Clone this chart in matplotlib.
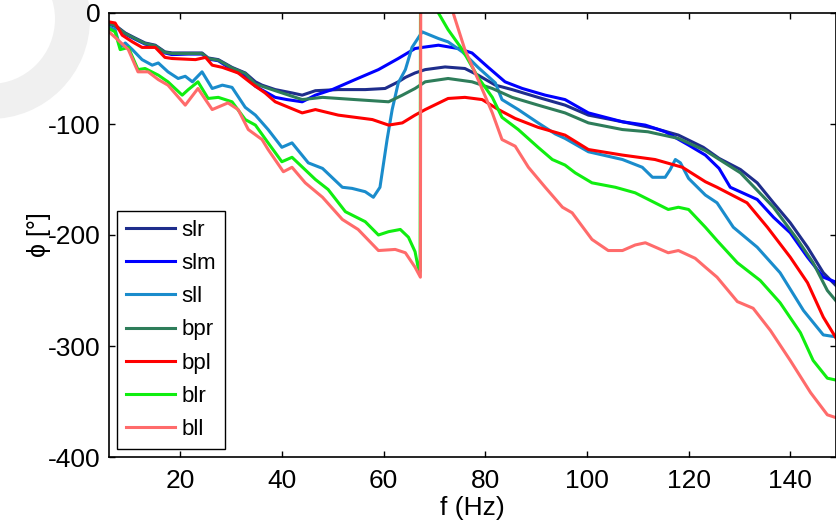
import matplotlib
matplotlib.use("Agg")
import matplotlib.pyplot as plt
from matplotlib.patches import Wedge
import numpy as np

plt.rcParams["font.family"] = ["Liberation Sans", "DejaVu Sans"]
plt.rcParams["axes.unicode_minus"] = False

# phase curves, frequency in Hz, phase in degrees
slr_f = [6, 7.2, 9.2, 11.1, 13.1, 15.1, 17, 18.4, 21.6, 24.3, 25.5, 27.5, 30.2, 32.8, 34.8, 36.1, 38.7, 42, 44,
         46.6, 51.1, 56.4, 60.3, 62.9, 64.3, 66.2, 68.2, 72.1, 76, 78.6, 82, 85.3, 90.4, 95.7, 100.3, 107, 113.4,
         118, 122.9, 126, 130.2, 133.5, 136.7, 140, 143.4, 146.5, 149.3]
slr_p = [-9, -11, -18, -22.5, -27, -29, -35, -36, -36, -36, -40.5, -42, -49, -54, -62, -65, -69, -72, -74,
         -70, -69, -69, -68, -62, -58, -54, -51, -48.6, -50, -56, -65, -69, -76, -83, -92, -98, -104,
         -110, -121, -131, -141, -153, -171, -189, -211, -234, -247]

slm_f = [6, 7.2, 9.2, 11.1, 13.1, 15.1, 17, 18.4, 21.6, 24.3, 25.5, 27.5, 30.2, 32.8, 34.8, 38.7, 41, 44, 46.6,
         49.9, 54.4, 59, 62.9, 66.2, 67.6, 70.8, 74.7, 77.4, 80.6, 83.9, 87.3, 91.8, 95.7, 100.3, 107, 111.5,
         115.4, 120, 123.3, 126, 128.2, 133.5, 136.7, 140, 143.4, 146.5, 149.3]
slm_p = [-10, -12, -19, -23.5, -28, -30, -36, -37.5, -37, -37, -41.5, -43, -51, -57, -66, -76, -78, -80, -74,
         -69, -60, -51, -41, -32, -31, -29, -32, -36, -49, -62, -68, -74, -78, -90, -98, -101,
         -107, -119, -128, -140, -157, -168, -184, -198, -220, -238, -243]

sll_f = [6, 7.2, 8.2, 9.2, 10.6, 12.5, 14.5, 15.7, 17.6, 19.6, 21, 22.4, 24.3, 26.3, 28.3, 30.2, 32.8, 34.8,
         37.3, 40, 42, 45.2, 48, 51.9, 53.8, 56.4, 58, 59.3, 60.7, 61.7, 62.9, 64.3, 65.6, 67.6, 70.8, 72.7,
         75.5, 78.6, 82, 83.3, 86.5, 90.4, 93.8, 95.7, 100.3, 107, 110.9, 112.9, 115.4, 116.4, 117.4, 118.4,
         120, 123.3, 125.6, 128.8, 133.5, 138, 142.6, 146.5, 149.3]
sll_p = [-12.6, -15, -31, -27, -33, -42, -47, -45, -53, -59, -57, -62, -53, -68, -65, -67, -85, -92,
         -105, -121, -117, -135, -140, -157, -158, -161, -166, -157, -114, -87, -63, -51, -31, -17, -23, -26,
         -35, -49, -63, -78, -87, -99, -109, -113, -125, -132, -139, -148, -148, -141, -132, -135,
         -149, -164, -171, -193, -211, -234, -268, -290, -292]

bpr_f = [6, 7.2, 9.2, 11.1, 13.1, 15.1, 17, 18.4, 21.6, 24.3, 25.5, 27.5, 30.2, 32.8, 34.8, 38.7, 44, 48, 54.4,
         61, 63.7, 66.2, 68.2, 72.7, 77.4, 81.4, 85.3, 90.4, 95.7, 100.3, 107, 112, 118, 123.3, 130.2, 136.7,
         141.4, 144.5, 147.3, 149.3]
bpr_p = [-9.5, -11.5, -18.5, -23, -27.5, -29.5, -35.5, -36.5, -36.5, -36.5, -41, -42.5, -49.5, -54.5, -64, -70,
         -78, -76, -78, -80, -74, -68, -62, -59, -62, -68, -76, -83, -90, -99, -105, -107, -113, -124, -144,
         -175, -204, -225, -250, -261]

bpl_f = [6, 7.2, 8.6, 10.6, 12.5, 15.1, 17, 18.4, 23, 25, 26.3, 28.3, 31.4, 34.2, 36.7, 38.7, 44, 46.6, 51.1,
         57.8, 61, 63.7, 66.2, 68.2, 72.7, 76, 79.4, 82.6, 85.9, 90.4, 95.7, 100.3, 107, 113.4, 118.8, 123.3,
         125.6, 131.5, 135.5, 140, 143.4, 146.5, 149.3]
bpl_p = [-8, -9, -20, -26, -31, -31, -40, -41, -42, -40, -47, -49, -54, -64, -72, -80, -90, -87, -92,
         -96, -101, -99, -92, -87, -77, -76, -78, -87, -95, -103, -110, -123, -128, -132, -139, -152,
         -157, -171, -193, -220, -243, -274, -295]

blr_f = [6, 7.2, 8.2, 9.8, 11.7, 13.1, 15.7, 17.6, 20.4, 21.6, 23.5, 25.5, 27.5, 30.2, 32.8, 34.8, 37.3, 40,
         42, 46.6, 49.1, 52.5, 56.4, 59, 61, 63.3, 64.9, 66.2, 66.8, 67.2, 67.3, 70.8, 72.7, 75.5, 78.6, 81.4,
         83.3, 86.5, 90.4, 93.2, 95.7, 97.7, 101, 105.6, 109.5, 113.4, 116, 118, 120, 123.3, 125.6, 129.6,
         134.1, 138, 142, 144.5, 147.3, 149.3]
blr_p = [-14, -17, -33, -31, -51, -50, -56, -62, -74, -69, -62, -77, -76, -80, -96, -101, -117, -134,
         -130, -150, -159, -179, -188, -200, -197, -195, -202, -215, -229, -233, 125, 0, -15, -33, -58, -76,
         -94, -105, -121, -132, -137, -144, -153, -157, -162, -171, -177, -175, -177, -193, -205, -225,
         -241, -261, -288, -313, -329, -331]

bll_f = [6, 7.7, 9.8, 11.7, 13.7, 15.7, 17.6, 21, 23.5, 26.3, 29.4, 31.4, 33.4, 36.1, 37.3, 40.3, 42, 44.6, 48,
         51.9, 55, 59, 62.3, 64.3, 66.2, 67.25, 67.35, 73.7, 76, 78.6, 81.4, 83.3, 85.9, 88.5, 91.8, 95.2, 97.1,
         101, 104.2, 107, 109.5, 111.5, 116, 118, 121.3, 123.3, 125.6, 129.6, 132.7, 136.1, 140, 144, 147.3,
         149.3]
bll_p = [-17, -24, -33, -53, -53, -60, -65, -83, -68, -87, -81, -87, -105, -114, -123, -143, -139, -153, -166,
         -186, -195, -214, -213, -216, -229, -238, 122, 0, -33, -60, -90, -114, -120, -139, -157, -175, -180,
         -204, -214, -214, -209, -207, -216, -214, -221, -229, -238, -260, -266, -286, -313, -342, -362,
         -365]

labels = ["slr", "slm", "sll", "bpr", "bpl", "blr", "bll"]
colors = ["#1e2d8c", "#0000ff", "#1a8ccc", "#2e7d5a", "#ff0000", "#10ee10", "#ff6b6b"]
series = [(slr_f, slr_p), (slm_f, slm_p), (sll_f, sll_p), (bpr_f, bpr_p),
          (bpl_f, bpl_p), (blr_f, blr_p), (bll_f, bll_p)]

W, H = 837, 521
fig = plt.figure(figsize=(W / 100, H / 100), dpi=100)

# faint ring in the top left corner
bg = fig.add_axes([0, 0, 1, 1], zorder=-1)
bg.set_xlim(0, W)
bg.set_ylim(H, 0)
bg.axis("off")
bg.add_patch(Wedge((-10, 19), 100, 0, 360, width=35, color="#f0f0f0", lw=0))

ax = fig.add_axes([109 / W, (H - 457) / H, 727 / W, 444 / H])
for (f, p), lab, c in zip(series, labels, colors):
    ax.plot(f, p, color=c, lw=2.2, label=lab)

ax.set_xlim(6, 149)
ax.set_ylim(-400, 0)
ax.set_xticks([20, 40, 60, 80, 100, 120, 140])
ax.set_yticks([0, -100, -200, -300, -400])
ax.tick_params(direction="in", length=4, width=1, top=True, right=True, labelsize=19)
ax.tick_params(axis="x", pad=9)
ax.tick_params(axis="y", pad=6)
for s in ax.spines.values():
    s.set_linewidth(1.2)

ax.set_xlabel("f (Hz)", fontsize=19, labelpad=2)
ax.set_ylabel("ϕ [°]", fontsize=18, labelpad=-2)

leg = ax.legend(loc="lower left", bbox_to_anchor=(117 / W, (H - 449) / H), bbox_transform=fig.transFigure,
                borderaxespad=0, fontsize=16, fancybox=False, framealpha=1, edgecolor="black",
                handlelength=2.2, handletextpad=0.3, labelspacing=0.55, borderpad=0.4)
leg.get_frame().set_linewidth(1.0)

fig.savefig("out.png", dpi=100)
